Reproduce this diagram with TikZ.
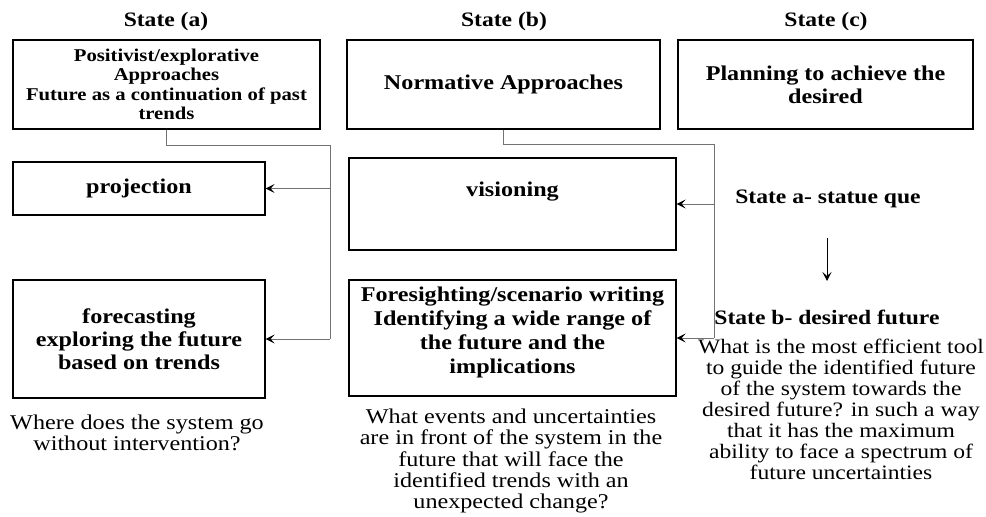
\documentclass[tikz,border=0pt]{standalone}
\usepackage{fontspec}
\setmainfont{Liberation Serif}[FakeStretch=1.15]
\usetikzlibrary{arrows.meta}
\begin{document}
\begin{tikzpicture}[x=1pt,y=-1pt,
  box/.style={draw=black,line width=1.3pt,inner sep=0pt,align=center,
    font=\bfseries\fontsize{21}{23}\selectfont},
  title/.style={font=\bfseries\fontsize{20.5}{23}\selectfont,inner sep=0pt},
  note/.style={align=center,inner sep=0pt,font=\fontsize{21}{21.3}\selectfont},
  conn/.style={draw=black!55,line width=0.9pt},
  tip/.style={-{Stealth[length=9pt,width=9pt,inset=4pt,black]}}]
\useasboundingbox (0,0) rectangle (986,517);

% column titles
\node[title] (ta) at (166,22) {State (a)};
\node[title] (tb) at (504,22) {State (b)};
\node[title] (tc) at (826,22) {State (c)};

% top row
\node[box,minimum width=307pt,minimum height=89pt,
  font=\bfseries\fontsize{18}{19.5}\selectfont] (a1) at (166.5,84.5)
  {Positivist/explorative\\Approaches\\Future as a continuation of past\\trends};
\node[box,minimum width=313pt,minimum height=89pt] (b1) at (503.5,84.5)
  {Normative Approaches};
\node[box,minimum width=295pt,minimum height=89pt] (c1) at (825.5,84.5)
  {Planning to achieve the\\desired};

% column (a)
\node[box,minimum width=252pt,minimum height=53pt] (proj) at (139,188.5) {projection};
\node[box,minimum width=252pt,minimum height=118pt] (fc) at (139,339)
  {forecasting\\exploring the future\\based on trends};
\node[note] (qa) at (137,433) {Where does the system go\\without intervention?};

% column (b)
\node[box,minimum width=327pt,minimum height=92pt] (vis) at (512.5,204) {};
\node[title,font=\bfseries\fontsize{21}{23}\selectfont] (vist) at (512.5,192) {visioning};
\node[box,minimum width=327pt,minimum height=116pt] (fs) at (512.5,338) {};
\node[align=center,inner sep=0pt,font=\bfseries\fontsize{21}{24}\selectfont] (fst) at (512.5,332)
  {Foresighting/scenario writing\\Identifying a wide range of\\the future and the\\implications};
\node[note] (qb) at (511,461)
  {What events and uncertainties\\are in front of the system in the\\future that will face the\\identified trends with an\\unexpected change?};

% column (c)
\node[title] (sa) at (828,199) {State a- statue que};
\node[title] (sb) at (827,317) {State b- desired future};
\node[note,font=\fontsize{20.5}{21}\selectfont] (qc) at (841,409)
  {What is the most efficient tool\\to guide the identified future\\of the system towards the\\desired future? in such a way\\that it has the maximum\\ability to face a spectrum of\\future uncertainties};
\coordinate (d1) at (827,238);
\coordinate (d2) at (827,281);
\draw[line width=0.9pt,tip] (d1) -- (d2);

% connectors
\coordinate (ja) at (330,145);
\draw[conn] (a1.south) |- (ja) -- (ja |- fc.east);
\draw[conn,tip] (ja |- proj.east) -- (proj.east);
\draw[conn,tip] (ja |- fc.east) -- (fc.east);

\coordinate (jb) at (714,144);
\draw[conn] (b1.south) |- (jb) -- (jb |- fs.east);
\draw[conn,tip] (jb |- vis.east) -- (vis.east);
\draw[conn,tip] (jb |- fs.east) -- (fs.east);
\end{tikzpicture}
\end{document}
